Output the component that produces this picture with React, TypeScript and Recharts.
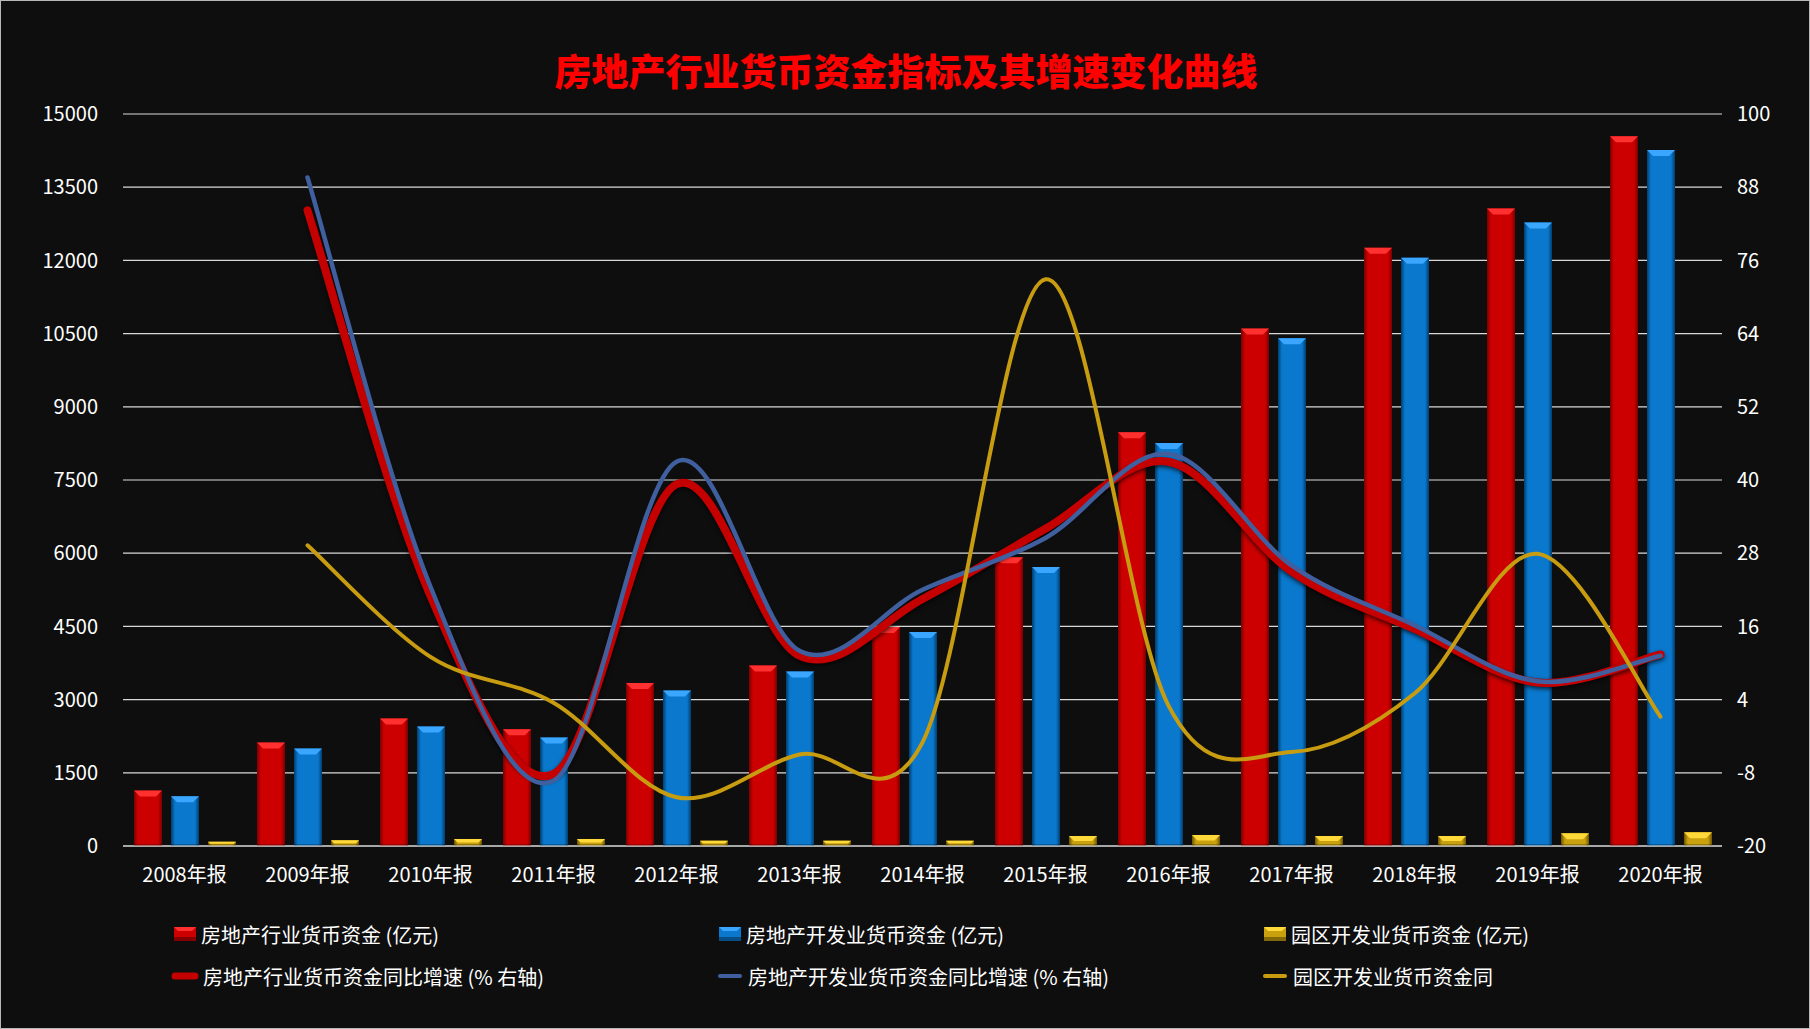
import React from "react";
import {
  ComposedChart, Bar, Line, XAxis, YAxis, CartesianGrid,
} from "recharts";

// categories
const years = [
  "2008年报", "2009年报", "2010年报", "2011年报", "2012年报", "2013年报", "2014年报",
  "2015年报", "2016年报", "2017年报", "2018年报", "2019年报", "2020年报",
];

// monetary funds, 亿元 (left axis)
const estateFund = [1135, 2120, 2615, 2394, 3338, 3700, 4488, 5915, 8477, 10603, 12260, 13066, 14543];
const devFund = [1019, 1997, 2449, 2223, 3187, 3577, 4385, 5715, 8258, 10406, 12055, 12778, 14262];
const parkFund = [88, 117, 144, 144, 109, 109, 109, 205, 226, 205, 205, 260, 281];

// yoy growth, % (right axis)
const estateGrowth = [null, 84.2, 21, -8.2, 39.3, 11.2, 20.5, 32, 43, 25, 15.6, 6.8, 11.4];
const devGrowth = [null, 89.6, 22.5, -9.3, 43, 12, 22, 30.5, 44.3, 26, 16.2, 7, 11.2];
const parkGrowth = [null, 29.3, 11, 3.5, -12, -5, -3, 72.9, 3, -4.6, 5, 27.9, 1.2];

const leftTicks = [0, 1500, 3000, 4500, 6000, 7500, 9000, 10500, 12000, 13500, 15000];
const rightTicks = [-20, -8, 4, 16, 28, 40, 52, 64, 76, 88, 100];

const names = {
  estateFund: "房地产行业货币资金 (亿元)",
  devFund: "房地产开发业货币资金 (亿元)",
  parkFund: "园区开发业货币资金 (亿元)",
  estateGrowth: "房地产行业货币资金同比增速 (% 右轴)",
  devGrowth: "房地产开发业货币资金同比增速 (% 右轴)",
  parkGrowth: "园区开发业货币资金同",
};

const data = years.map((year, i) => ({
  year,
  estateFund: estateFund[i],
  devFund: devFund[i],
  parkFund: parkFund[i],
  estateGrowth: estateGrowth[i],
  devGrowth: devGrowth[i],
  parkGrowth: parkGrowth[i],
}));

const C = {
  bg: "#0e0e0e",
  grid: "#d9d9d9",
  text: "#ffffff",
  title: "#ff0000",
  red: "#cc0000", redTop: "#ff3030", redEdge: "#7a0000",
  blue: "#0a78cc", blueTop: "#3aa6ff", blueEdge: "#003e70",
  gold: "#c9a10e", goldTop: "#ffd83a", goldEdge: "#6e5500",
  redLine: "#c40000", blueLine: "#3f5f9e", goldLine: "#c89c10",
};

const FONT = '"Noto Sans CJK SC", "Noto Sans", sans-serif';

// Excel-like smoothing (Catmull-Rom through every point)
function excelSmooth(context: any) {
  let pts: number[][] = [];
  return {
    areaStart() {},
    areaEnd() {},
    lineStart() { pts = []; },
    lineEnd() {
      const n = pts.length;
      if (!n) return;
      context.moveTo(pts[0][0], pts[0][1]);
      if (n === 1) { context.lineTo(pts[0][0], pts[0][1]); return; }
      for (let i = 0; i < n - 1; i++) {
        const p0 = pts[Math.max(i - 1, 0)];
        const p1 = pts[i];
        const p2 = pts[i + 1];
        const p3 = pts[Math.min(i + 2, n - 1)];
        context.bezierCurveTo(
          p1[0] + (p2[0] - p0[0]) / 6, p1[1] + (p2[1] - p0[1]) / 6,
          p2[0] - (p3[0] - p1[0]) / 6, p2[1] - (p3[1] - p1[1]) / 6,
          p2[0], p2[1],
        );
      }
    },
    point(x: number, y: number) { pts.push([+x, +y]); },
  };
}

type Kind = "red" | "blue" | "gold";
const TOP: Record<Kind, string> = { red: C.redTop, blue: C.blueTop, gold: C.goldTop };

function makeBar(kind: Kind) {
  return (p: any) => {
    const { x, y, width: w, height: h } = p;
    if (!h || h <= 0) return <g />;
    const b = Math.min(6, h / 2, w / 4);
    return (
      <g>
        <rect x={x} y={y} width={w} height={h} fill={`url(#side-${kind})`} />
        <polygon
          points={`${x},${y} ${x + w},${y} ${x + w - b},${y + b} ${x + b},${y + b}`}
          fill={TOP[kind]}
        />
        <rect x={x} y={y + h - 2} width={w} height={2} fill="#000" opacity={0.25} />
      </g>
    );
  };
}

const BarIcon = ({ kind }: { kind: Kind }) => {
  const base = kind === "red" ? C.red : kind === "blue" ? C.blue : C.gold;
  return (
    <svg width={24} height={16}>
      <rect x={1} y={1} width={22} height={14} fill={base} />
      <polygon points="1,1 23,1 19,5 5,5" fill={TOP[kind]} />
      <rect x={1} y={11} width={22} height={4} fill="#000" opacity={0.35} />
    </svg>
  );
};

const LineIcon = ({ color, w }: { color: string; w: number }) => (
  <svg width={28} height={16}>
    <line x1={4} y1={8} x2={24} y2={8} stroke={color} strokeWidth={w} strokeLinecap="round" />
  </svg>
);

const legendItems = [
  { label: names.estateFund, icon: <BarIcon kind="red" />, x: 172, y: 934 },
  { label: names.devFund, icon: <BarIcon kind="blue" />, x: 717, y: 934 },
  { label: names.parkFund, icon: <BarIcon kind="gold" />, x: 1262, y: 934 },
  { label: names.estateGrowth, icon: <LineIcon color={C.redLine} w={7} />, x: 170, y: 976 },
  { label: names.devGrowth, icon: <LineIcon color={C.blueLine} w={4} />, x: 715, y: 976 },
  { label: names.parkGrowth, icon: <LineIcon color={C.goldLine} w={4} />, x: 1260, y: 976 },
];

export default function App() {
  return (
    <div
      style={{
        position: "absolute", left: 0, top: 0, width: 1810, height: 1029,
        background: C.bg, boxSizing: "border-box", border: "1px solid #b8b8b8",
        overflow: "hidden", fontFamily: FONT,
      }}
    >
      <div
        style={{
          position: "absolute", left: 0, width: 1810, top: 45, textAlign: "center",
          color: C.title, fontSize: 37, fontWeight: 900, lineHeight: "48px",
          paddingRight: 4,
        }}
      >
        房地产行业货币资金指标及其增速变化曲线
      </div>

      <ComposedChart
        width={1810}
        height={1029}
        data={data}
        margin={{ top: 114, right: 0, bottom: 123, left: 0 }}
        barCategoryGap={11}
        barGap={9}
        style={{ position: "absolute", left: -1, top: -1 }}
      >
        <defs>
          {([
            ["red", C.redEdge, C.red],
            ["blue", C.blueEdge, C.blue],
            ["gold", C.goldEdge, C.gold],
          ] as const).map(([k, edge, mid]) => (
            <linearGradient key={k} id={`side-${k}`} x1="0" y1="0" x2="1" y2="0">
              <stop offset="0%" stopColor={edge} />
              <stop offset="14%" stopColor={mid} />
              <stop offset="86%" stopColor={mid} />
              <stop offset="100%" stopColor={edge} />
            </linearGradient>
          ))}
        </defs>
        <CartesianGrid yAxisId="left" vertical={false} stroke={C.grid} strokeWidth={1.2} />
        <XAxis
          dataKey="year"
          axisLine={{ stroke: C.grid, strokeWidth: 1.2 }}
          tickLine={false}
          tickSize={0}
          tickMargin={22}
          height={60}
          interval={0}
          tick={{ fill: C.text, fontSize: 20, fontFamily: FONT }}
        />
        <YAxis
          yAxisId="left"
          orientation="left"
          width={123}
          domain={[0, 15000]}
          ticks={leftTicks}
          axisLine={false}
          tickLine={false}
          tickSize={0}
          tickMargin={25}
          interval={0}
          tick={{ fill: C.text, fontSize: 20, fontFamily: FONT }}
        />
        <YAxis
          yAxisId="right"
          orientation="right"
          width={88}
          domain={[-20, 100]}
          ticks={rightTicks}
          axisLine={false}
          tickLine={false}
          tickSize={0}
          tickMargin={15}
          interval={0}
          tick={{ fill: C.text, fontSize: 20, fontFamily: FONT }}
        />
        <Bar yAxisId="left" dataKey="estateFund" name={names.estateFund} fill={C.red} shape={makeBar("red")} isAnimationActive={false} />
        <Bar yAxisId="left" dataKey="devFund" name={names.devFund} fill={C.blue} shape={makeBar("blue")} isAnimationActive={false} />
        <Bar yAxisId="left" dataKey="parkFund" name={names.parkFund} fill={C.gold} shape={makeBar("gold")} isAnimationActive={false} />
        <Line
          yAxisId="right" dataKey="estateGrowth" name={names.estateGrowth}
          type={excelSmooth as any} stroke={C.redLine} strokeWidth={8} strokeLinecap="round"
          dot={false} activeDot={false} isAnimationActive={false}
          style={{ filter: "drop-shadow(0px 2px 2px rgba(0,0,0,0.7))" }}
        />
        <Line
          yAxisId="right" dataKey="devGrowth" name={names.devGrowth}
          type={excelSmooth as any} stroke={C.blueLine} strokeWidth={4.5} strokeLinecap="round"
          dot={false} activeDot={false} isAnimationActive={false}
        />
        <Line
          yAxisId="right" dataKey="parkGrowth" name={names.parkGrowth}
          type={excelSmooth as any} stroke={C.goldLine} strokeWidth={4} strokeLinecap="round"
          dot={false} activeDot={false} isAnimationActive={false}
        />
      </ComposedChart>

      {/* legend, 2 rows x 3 columns */}
      {legendItems.map((it) => (
        <div
          key={it.label}
          style={{
            position: "absolute", left: it.x, top: it.y - 15, height: 28,
            display: "flex", alignItems: "center", gap: 4,
            color: C.text, fontSize: 20, fontFamily: FONT, whiteSpace: "nowrap",
          }}
        >
          {it.icon}
          <span>{it.label}</span>
        </div>
      ))}
    </div>
  );
}
